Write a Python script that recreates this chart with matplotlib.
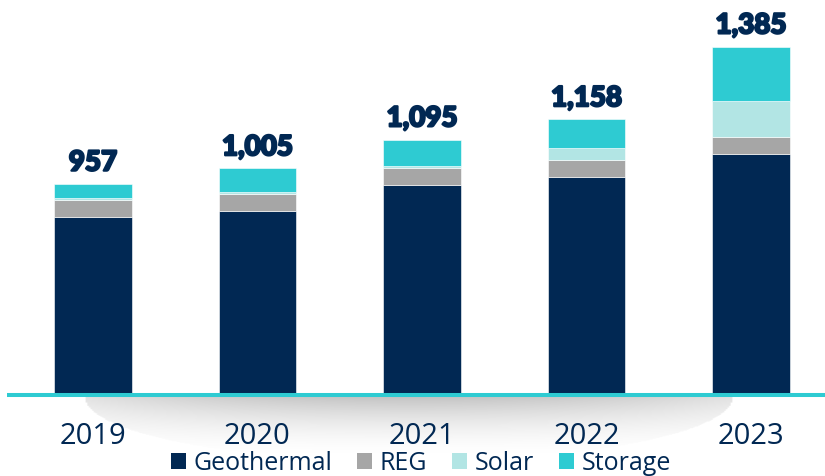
import numpy as np
import matplotlib
matplotlib.use("Agg")
import matplotlib.pyplot as plt
from matplotlib.patches import Patch
import matplotlib.patheffects as pe

# ---- data ----
years = ["2019", "2020", "2021", "2022", "2023"]
geothermal = [853, 872, 953, 979, 1051]
reg = [54, 52, 52, 53, 53]
solar = [6, 8, 8, 38, 111]
storage = [44, 73, 82, 88, 170]
series_names = ["Geothermal", "REG", "Solar", "Storage"]
colors = ["#012853", "#a6a6a6", "#b2e5e4", "#2ecbd2"]
navy = "#012853"

W, H = 825, 476
fig = plt.figure(figsize=(W / 100, H / 100), dpi=100)

# shadow under baseline (decorative)
sx0, sx1, sy0, sy1 = 84, 734, 396, 462
sax = fig.add_axes([sx0 / W, 1 - sy1 / H, (sx1 - sx0) / W, (sy1 - sy0) / H], zorder=0)
xx = np.linspace(-1, 1, 400)
yy = np.linspace(0, 1, 80)
X, Y = np.meshgrid(xx, yy)
R = X ** 2 + Y ** 2
inside = R < 1
dark = 0.24 * np.clip(1 - Y, 0, 1) ** 2.0 * (1 - 0.5 * X ** 2)
img = np.ones((80, 400, 4))
img[..., :3] = 0.0
img[..., 3] = np.where(inside, dark, 0)
sax.imshow(img, aspect="auto", extent=(0, 1, 1, 0), interpolation="bilinear")
sax.set_xlim(0, 1)
sax.set_ylim(1, 0)
sax.axis("off")

# main axes
base_px = 392.7
ax = fig.add_axes([0, 1 - base_px / H, 1, base_px / H], zorder=1)
ax.patch.set_alpha(0)
x = np.arange(len(years))
width = 0.472
bottom = np.zeros(len(years))
for vals, name, c in zip([geothermal, reg, solar, storage], series_names, colors):
    ax.bar(x, vals, width, bottom=bottom, color=c, label=name, edgecolor="white", linewidth=0.4)
    bottom = bottom + np.array(vals)

totals = bottom
for xi, t in zip(x, totals):
    ax.annotate(f"{int(t):,}", (xi, t), xytext=(0, 9.5), textcoords="offset points",
                ha="center", va="baseline", fontsize=20, fontweight="black",
                color=navy, family=["Lato", "DejaVu Sans"],
                path_effects=[pe.withStroke(linewidth=1.6, foreground=navy)])

ax.set_xlim(-0.565, 4.45)
ax.set_ylim(305.5, 1530.5)
ax.axis("off")

# baseline line
ax.plot([0.0085, 1], [-0.0051, -0.0051], transform=ax.transAxes, color="#2ecbd2",
        linewidth=2.9, clip_on=False, solid_capstyle="butt")

# year labels
for xi, yr in zip(x, years):
    ax.text(xi, -(444 - base_px) / base_px, yr, transform=ax.get_xaxis_transform(),
            ha="center", va="baseline", fontsize=21, color=navy,
            family=["Open Sans", "DejaVu Sans"])

handles = [Patch(facecolor=c, edgecolor="none") for c in colors]
fig.legend(handles, series_names, loc="center", bbox_to_anchor=(421 / W, 1 - 463 / H),
           ncol=4, frameon=False, handlelength=0.6, handleheight=0.6,
           handletextpad=0.3, columnspacing=1.0, labelcolor=navy,
           prop={"family": ["Open Sans", "DejaVu Sans"], "size": 18})

fig.savefig("out.png", dpi=100)
